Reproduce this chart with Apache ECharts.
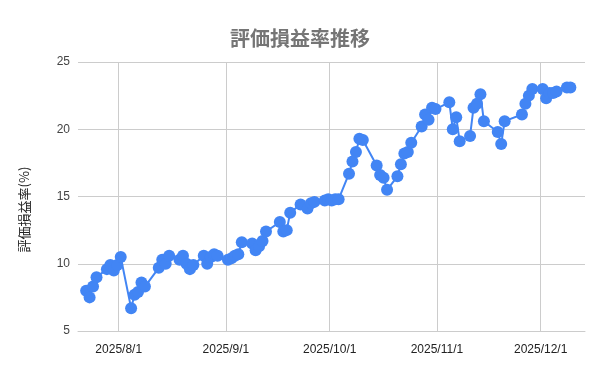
<!DOCTYPE html>
<html><head><meta charset="utf-8">
<script src="https://cdn.jsdelivr.net/npm/echarts@6/dist/echarts.min.js"></script>
<style>html,body{margin:0;padding:0;background:#fff}#c{width:600px;height:371px}</style>
</head><body><div id="c"></div>
<script>
const title = '評価損益率推移';
const yName = '評価損益率(%)';
const dates = [
 '2025-07-22','2025-07-23','2025-07-24','2025-07-25',
 '2025-07-28','2025-07-29','2025-07-30','2025-07-31','2025-08-01',
 '2025-08-04','2025-08-05','2025-08-06','2025-08-07','2025-08-08',
 '2025-08-12','2025-08-13','2025-08-14','2025-08-15',
 '2025-08-18','2025-08-19','2025-08-20','2025-08-21','2025-08-22',
 '2025-08-25','2025-08-26','2025-08-27','2025-08-28','2025-08-29',
 '2025-09-01','2025-09-02','2025-09-03','2025-09-04','2025-09-05',
 '2025-09-08','2025-09-09','2025-09-10','2025-09-11','2025-09-12',
 '2025-09-16','2025-09-17','2025-09-18','2025-09-19',
 '2025-09-22','2025-09-24','2025-09-25','2025-09-26',
 '2025-09-29','2025-09-30','2025-10-01','2025-10-02','2025-10-03',
 '2025-10-06','2025-10-07','2025-10-08','2025-10-09','2025-10-10',
 '2025-10-14','2025-10-15','2025-10-16','2025-10-17',
 '2025-10-20','2025-10-21','2025-10-22','2025-10-23','2025-10-24',
 '2025-10-27','2025-10-28','2025-10-29','2025-10-30','2025-10-31',
 '2025-11-04','2025-11-05','2025-11-06','2025-11-07',
 '2025-11-10','2025-11-11','2025-11-12','2025-11-13','2025-11-14',
 '2025-11-18','2025-11-19','2025-11-20',
 '2025-11-25','2025-11-26','2025-11-27','2025-11-28',
 '2025-12-01','2025-12-02','2025-12-03','2025-12-04','2025-12-05',
 '2025-12-08','2025-12-09'
];
const values = [
 8.0,7.5,8.3,9.0,
 9.6,9.9,9.5,9.9,10.5,
 6.7,7.7,7.9,8.6,8.3,
 9.7,10.3,10.0,10.6,
 10.3,10.6,10.0,9.6,9.9,
 10.6,10.0,10.5,10.7,10.6,
 10.3,10.4,10.6,10.7,11.6,
 11.5,11.0,11.3,11.7,12.4,
 13.1,12.4,12.5,13.8,
 14.4,14.1,14.5,14.6,
 14.7,14.8,14.7,14.8,14.8,
 16.7,17.6,18.3,19.3,19.2,
 17.3,16.6,16.4,15.5,
 16.5,17.4,18.2,18.3,19.0,
 20.2,21.1,20.7,21.6,21.5,
 22.0,20.0,20.9,19.1,
 19.5,21.6,21.9,22.6,20.6,
 19.8,18.9,20.6,
 21.1,21.9,22.5,23.0,
 23.0,22.3,22.7,22.7,22.8,
 23.1,23.1
];
const yTicks = [5, 10, 15, 20, 25];

const chart = echarts.init(document.getElementById('c'), null, {renderer: 'canvas'});
chart.setOption({
  animation: false,
  backgroundColor: '#fff',
  title: {
    text: title, left: 'center', top: 23,
    textStyle: {fontSize: 20, fontWeight: 'bold', color: '#757575', fontFamily: '"Noto Sans CJK JP", sans-serif'}
  },
  grid: {left: 78, right: 15, top: 62, bottom: 40, containLabel: false},
  xAxis: {
    type: 'time',
    min: '2025-07-20 05:30',
    max: '2025-12-13 19:30',
    splitNumber: 5,
    axisLine: {show: true, lineStyle: {color: '#cccccc', width: 1}},
    axisTick: {show: false},
    splitLine: {show: true, showMinLine: false, showMaxLine: false, lineStyle: {color: '#cccccc', width: 1}},
    minorSplitLine: {show: false},
    axisLabel: {
      formatter: '{yyyy}/{M}/{d}', color: '#222', fontSize: 12, margin: 13,
      fontFamily: '"Liberation Sans", Arial, sans-serif', hideOverlap: true,
      showMinLabel: false, showMaxLabel: false
    }
  },
  yAxis: {
    type: 'value',
    min: yTicks[0], max: yTicks[yTicks.length - 1], interval: 5,
    name: yName, nameLocation: 'middle', nameGap: 47, nameRotate: 90,
    nameTextStyle: {fontSize: 13, color: '#222', fontFamily: '"Noto Sans CJK JP", sans-serif', padding: [0, 26, 0, 0]},
    axisLine: {show: false}, axisTick: {show: false},
    splitLine: {lineStyle: {color: '#cccccc', width: 1}},
    axisLabel: {color: '#444', fontSize: 12, margin: 8, fontFamily: '"Liberation Sans", Arial, sans-serif'}
  },
  series: [{
    type: 'line',
    data: dates.map((d, i) => [d + ' 14:00', values[i]]),
    symbol: 'circle', symbolSize: 12,
    itemStyle: {color: '#4285F4'},
    lineStyle: {color: '#4285F4', width: 2},
    z: 3
  }]
});
</script></body></html>
